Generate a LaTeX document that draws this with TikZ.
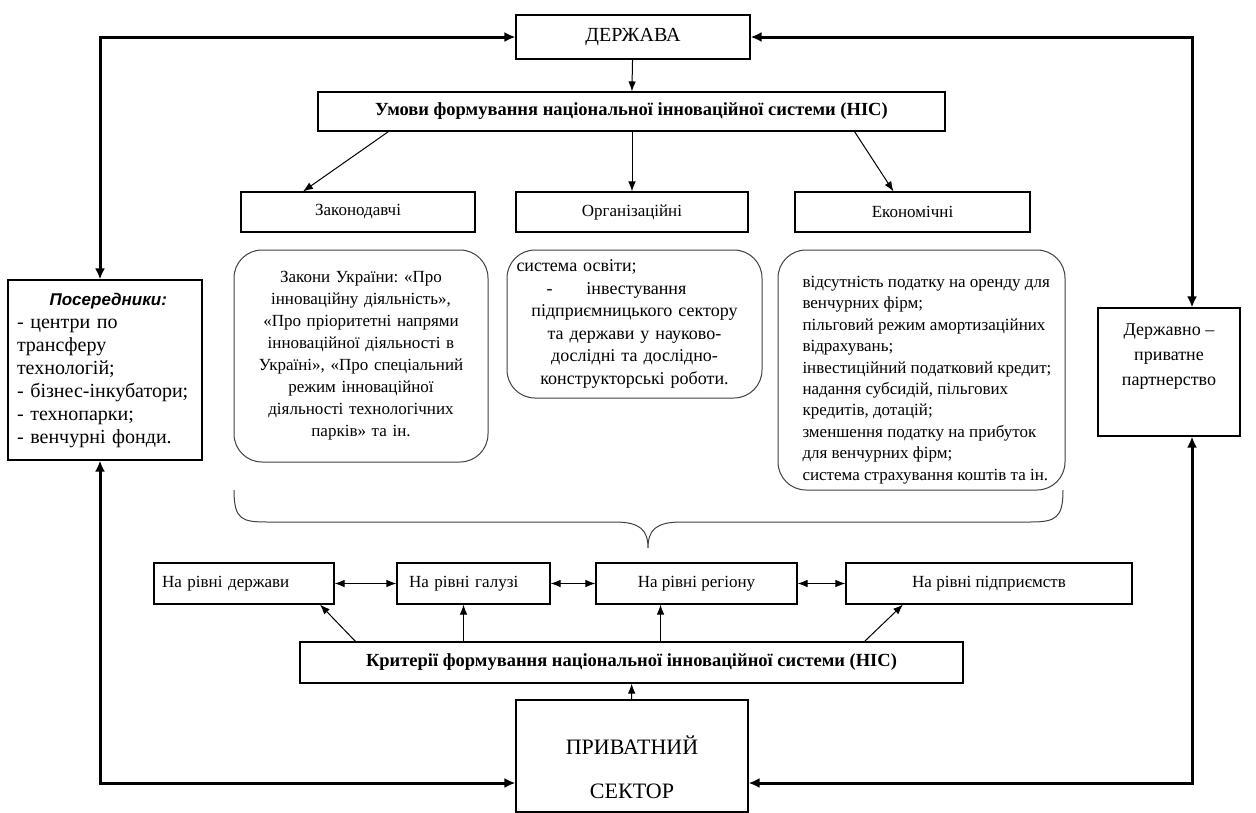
\documentclass[tikz,border=0pt]{standalone}
\usepackage{fontspec}
\setmainfont{Liberation Serif}
\newfontfamily\possans{Liberation Sans}
\usetikzlibrary{arrows.meta}
\frenchspacing

\newcommand{\txt}[2]{\fontsize{#1}{#2}\selectfont}

\begin{document}
\begin{tikzpicture}[x=1pt,y=-1pt]
		\useasboundingbox (0,0) rectangle (1256,812);

		\begin{scope}[every node/.style={draw,line width=1.1pt,inner sep=3pt,font=\txt{17}{21}}]
			\node[minimum width=234pt,minimum height=44pt,font=\txt{20}{24}] (derzh) at (633,37) {ДЕРЖАВА};
			\node[minimum width=627pt,minimum height=39pt,font=\bfseries\txt{18.5}{22}] (umovy) at (631.5,111.5) {Умови формування національної інноваційної системи (НІС)};
			\node[minimum width=234pt,minimum height=40pt] (zak) at (358,212) {Законодавчі};
			\node[minimum width=232pt,minimum height=40pt] (org) at (632,212) {Організаційні};
			\node[minimum width=235pt,minimum height=40pt] (ekon) at (912.5,212) {Економічні};
			\node[minimum width=194pt,minimum height=180pt,text width=176pt,align=left,font=\txt{20}{23}] (poser) at (105,370)
				{\centerline{\possans\bfseries\itshape\txt{17}{23} Посередники:}\\- центри по\\трансферу\\технологій;\\- бізнес-інкубатори;\\- технопарки;\\- венчурні фонди.};
			\node[minimum width=142pt,minimum height=128pt,font=\txt{18}{25}] (dpp) at (1169,372)
				{\raisebox{17pt}[\height][\depth]{\begin{tabular}{@{}c@{}}Державно –\\приватне\\партнерство\end{tabular}}};
			\node[minimum width=180pt,minimum height=41pt,text width=164pt,align=left] (l1) at (244,583.5) {На рівні держави};
			\node[minimum width=153pt,minimum height=41pt,text width=137pt,align=left] (l2) at (473.5,583.5) {\hspace*{4pt}На рівні галузі};
			\node[minimum width=201pt,minimum height=41pt] (l3) at (696.5,583.5) {На рівні регіону};
			\node[minimum width=286pt,minimum height=41pt] (l4) at (989,583.5) {На рівні підприємств};
			\node[minimum width=663pt,minimum height=41pt,font=\bfseries\txt{18.5}{22}] (kryt) at (631.5,662.5) {Критерії формування національної інноваційної системи (НІС)};
			\node[minimum width=232pt,minimum height=112pt,font=\txt{22}{44}] (pryv) at (632,756)
				{\raisebox{-12pt}[\height][\depth]{\begin{tabular}{@{}c@{}}ПРИВАТНИЙ\\СЕКТОР\end{tabular}}};
		\end{scope}

		\begin{scope}[every node/.style={draw=black!75,line width=1pt,rounded corners=28pt,font=\txt{17}{22}}]
			\node[minimum width=254pt,minimum height=212pt,text width=236pt,align=center] (zakony) at (361,356)
				{Закони України: «Про\\інноваційну діяльність»,\\«Про пріоритетні напрями\\інноваційної діяльності в\\Україні», «Про спеціальний\\режим інноваційної\\діяльності технологічних\\парків» та ін.};
			\node[minimum width=255pt,minimum height=148pt,text width=236pt,align=center,font=\txt{18}{22.5}] (osvita) at (634.5,324)
				{\makebox[236pt][l]{система освіти;}\\\makebox[236pt][l]{\hspace{30pt}-\hspace{34pt}інвестування}\\підприємницького сектору\\та держави у науково-\\дослідні та дослідно-\\конструкторські роботи.};
			\node[minimum width=287pt,minimum height=240pt,font=\txt{17}{21.4}] (podatok) at (921.5,370)
				{\raisebox{-10pt}[\height][\depth]{\hspace*{12pt}\parbox[c]{250pt}{\raggedright відсутність податку на оренду для\\венчурних фірм;\\пільговий режим амортизаційних\\відрахувань;\\інвестиційний податковий кредит;\\надання субсидій, пільгових\\кредитів, дотацій;\\зменшення податку на прибуток\\для венчурних фірм;\\система страхування коштів та ін.}}};
		\end{scope}

		% brace under the three groups
		\draw[black!75,line width=1pt] (234,490) .. controls (234,520) and (242,522) .. (268,522) -- (615,522)
			.. controls (640,522) and (648,530) .. (648,548) .. controls (648,530) and (656,522) .. (681,522)
			-- (1030,522) .. controls (1056,522) and (1063,518) .. (1063,490);

		\begin{scope}[every edge/.style={draw,line width=1pt},>={Latex[length=10pt,width=7.5pt]}]
			\path [->] (derzh) edge (umovy);
			\path [->] ([xshift=-243pt]umovy.south) edge ([xshift=-55pt]zak.north);
			\path [->] (umovy.south -| org.north) edge (org.north);
			\path [->] ([xshift=223pt]umovy.south) edge ([xshift=-19pt]ekon.north);
			\path [<->] (l1) edge (l2);
			\path [<->] (l2) edge (l3);
			\path [<->] (l3) edge (l4);
			\path [->] ([xshift=-276pt]kryt.north) edge ([xshift=76pt]l1.south);
			\path [->] ([xshift=-168pt]kryt.north) edge ([xshift=-10pt]l2.south);
			\path [->] ([xshift=29pt]kryt.north) edge ([xshift=-36pt]l3.south);
			\path [->] ([xshift=233pt]kryt.north) edge ([xshift=-86pt]l4.south);
			\path [->] (pryv) edge (kryt);
		\end{scope}

		\begin{scope}[line width=3pt,>={Latex[length=11pt,width=10pt]}]
			\draw [<->] ([xshift=-5pt]poser.north) |- (derzh.west);
			\draw [<->] ([xshift=23pt]dpp.north) |- (derzh.east);
			\draw [<->] ([xshift=-5pt]poser.south) |- ([yshift=-27pt]pryv.west);
			\draw [<->] ([xshift=23pt]dpp.south) |- ([yshift=-27pt]pryv.east);
		\end{scope}
	\end{tikzpicture}
\end{document}
